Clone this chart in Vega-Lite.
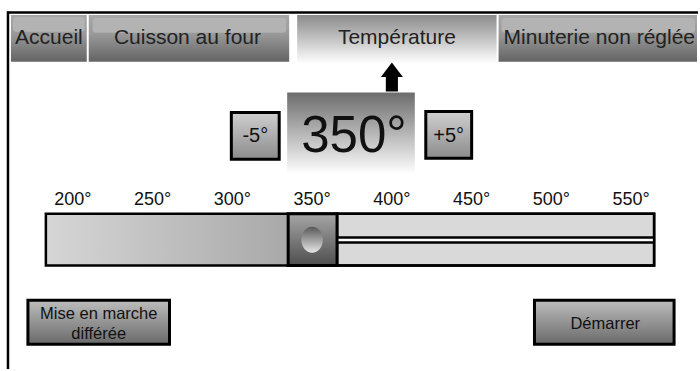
{
  "$schema": "https://vega.github.io/schema/vega-lite/v6.json",
  "width": 700,
  "height": 371,
  "autosize": {"type": "fit", "contains": "padding"},
  "padding": 0,
  "background": "white",
  "config": {"view": {"stroke": null}},
  "datasets": {
    "boxes": [
      {"kind": "tab", "name": "Accueil", "x": 11, "x2": 87, "y": 15, "y2": 62},
      {"kind": "tab", "name": "Cuisson au four", "x": 89, "x2": 290, "y": 15, "y2": 62},
      {"kind": "tab", "name": "Minuterie non réglée", "x": 500, "x2": 699, "y": 15, "y2": 62},
      {"kind": "tabhl", "name": "Accueil", "x": 13, "x2": 85, "y": 17, "y2": 32},
      {"kind": "tabhl", "name": "Cuisson au four", "x": 93, "x2": 287, "y": 18, "y2": 33},
      {"kind": "tabhl", "name": "Minuterie non réglée", "x": 503, "x2": 697, "y": 18, "y2": 33},
      {"kind": "tabactive", "name": "Température", "x": 298, "x2": 498, "y": 15, "y2": 64},
      {"kind": "display", "name": "valeur", "x": 288, "x2": 416, "y": 93, "y2": 175},
      {"kind": "stepbtn", "name": "-5°", "x": 232, "x2": 280, "y": 113, "y2": 160},
      {"kind": "stepbtn", "name": "+5°", "x": 427, "x2": 473, "y": 112, "y2": 159},
      {"kind": "slidefill", "name": "rempli", "x": 46, "x2": 289, "y": 215, "y2": 267},
      {"kind": "track", "name": "piste", "x": 338, "x2": 656, "y": 215, "y2": 267},
      {"kind": "trackline", "name": "ligne", "x": 338, "x2": 656, "y": 237.5, "y2": 245},
      {"kind": "trackgap", "name": "espace", "x": 339, "x2": 655, "y": 240, "y2": 242.5},
      {"kind": "sliderframe", "name": "cadre", "x": 46, "x2": 656, "y": 215, "y2": 267},
      {"kind": "knob", "name": "curseur", "x": 289, "x2": 338, "y": 215, "y2": 267},
      {"kind": "actbtn", "name": "Mise en marche différée", "x": 28, "x2": 170, "y": 302, "y2": 346},
      {"kind": "actbtn", "name": "Démarrer", "x": 536, "x2": 676, "y": 302, "y2": 346}
    ],
    "lines": [
      {"name": "gauche", "x": 8, "x2": 8, "y": 11.5, "y2": 371},
      {"name": "haut", "x": 7, "x2": 700, "y": 12.5, "y2": 12.5}
    ],
    "symbols": [
      {"kind": "arrow", "x": 393, "y": 77.5},
      {"kind": "dot", "x": 313, "y": 241}
    ],
    "labels": [
      {"role": "tab", "text": "Accueil", "x": 49, "y": 44},
      {"role": "tab", "text": "Cuisson au four", "x": 188, "y": 44},
      {"role": "tab", "text": "Température", "x": 398, "y": 44},
      {"role": "tab", "text": "Minuterie non réglée", "x": 601, "y": 44},
      {"role": "big", "text": "350°", "x": 355, "y": 153},
      {"role": "step", "text": "-5°", "x": 256, "y": 143},
      {"role": "step", "text": "+5°", "x": 450, "y": 143},
      {"role": "tick", "text": "200°", "x": 73, "y": 206},
      {"role": "tick", "text": "250°", "x": 153, "y": 206},
      {"role": "tick", "text": "300°", "x": 233, "y": 206},
      {"role": "tick", "text": "350°", "x": 313, "y": 206},
      {"role": "tick", "text": "400°", "x": 393, "y": 206},
      {"role": "tick", "text": "450°", "x": 473, "y": 206},
      {"role": "tick", "text": "500°", "x": 553, "y": 206},
      {"role": "tick", "text": "550°", "x": 633, "y": 206},
      {"role": "btn", "text": "Mise en marche\ndifférée", "x": 99, "y": 321},
      {"role": "btn", "text": "Démarrer", "x": 607, "y": 331}
    ]
  },
  "encoding": {
    "x": {"field": "x", "type": "quantitative", "scale": {"domain": [0, 700], "nice": false, "zero": false}, "axis": null},
    "y": {"field": "y", "type": "quantitative", "scale": {"domain": [0, 371], "reverse": true, "nice": false, "zero": false}, "axis": null}
  },
  "layer": [
    {
      "data": {"name": "boxes"},
      "transform": [{"filter": "datum.kind === 'tab'"}],
      "mark": {"type": "rect", "color": {"gradient": "linear", "x1": 0, "y1": 0, "x2": 0, "y2": 1, "stops": [{"offset": 0, "color": "#a8a8a8"}, {"offset": 0.4, "color": "#9a9a9a"}, {"offset": 1, "color": "#646464"}]}},
      "encoding": {"x2": {"field": "x2"}, "y2": {"field": "y2"}}
    },
    {
      "data": {"name": "boxes"},
      "transform": [{"filter": "datum.kind === 'tabhl'"}],
      "mark": {"type": "rect", "color": "#b3b3b3", "cornerRadius": 3},
      "encoding": {"x2": {"field": "x2"}, "y2": {"field": "y2"}}
    },
    {
      "data": {"name": "boxes"},
      "transform": [{"filter": "datum.kind === 'tabactive'"}],
      "mark": {"type": "rect", "color": {"gradient": "linear", "x1": 0, "y1": 0, "x2": 0, "y2": 1, "stops": [{"offset": 0, "color": "#8a8a8a"}, {"offset": 1, "color": "#ffffff"}]}},
      "encoding": {"x2": {"field": "x2"}, "y2": {"field": "y2"}}
    },
    {
      "data": {"name": "boxes"},
      "transform": [{"filter": "datum.kind === 'display'"}],
      "mark": {"type": "rect", "color": {"gradient": "linear", "x1": 0, "y1": 0, "x2": 0, "y2": 1, "stops": [{"offset": 0, "color": "#6c6c6c"}, {"offset": 1, "color": "#ffffff"}]}},
      "encoding": {"x2": {"field": "x2"}, "y2": {"field": "y2"}}
    },
    {
      "data": {"name": "boxes"},
      "transform": [{"filter": "datum.kind === 'stepbtn'"}],
      "mark": {"type": "rect", "stroke": "#000000", "strokeWidth": 3, "fill": {"gradient": "linear", "x1": 0, "y1": 0, "x2": 0, "y2": 1, "stops": [{"offset": 0, "color": "#cfcfcf"}, {"offset": 1, "color": "#8c8c8c"}]}},
      "encoding": {"x2": {"field": "x2"}, "y2": {"field": "y2"}}
    },
    {
      "data": {"name": "boxes"},
      "transform": [{"filter": "datum.kind === 'slidefill'"}],
      "mark": {"type": "rect", "color": {"gradient": "linear", "x1": 0, "y1": 0, "x2": 1, "y2": 0, "stops": [{"offset": 0, "color": "#d6d6d6"}, {"offset": 1, "color": "#a9a9a9"}]}},
      "encoding": {"x2": {"field": "x2"}, "y2": {"field": "y2"}}
    },
    {
      "data": {"name": "boxes"},
      "transform": [{"filter": "datum.kind === 'track'"}],
      "mark": {"type": "rect", "fill": "#d9d9d9", "stroke": "#000000", "strokeWidth": 2.5},
      "encoding": {"x2": {"field": "x2"}, "y2": {"field": "y2"}}
    },
    {
      "data": {"name": "boxes"},
      "transform": [{"filter": "datum.kind === 'trackline'"}],
      "mark": {"type": "rect", "color": "#000000"},
      "encoding": {"x2": {"field": "x2"}, "y2": {"field": "y2"}}
    },
    {
      "data": {"name": "boxes"},
      "transform": [{"filter": "datum.kind === 'trackgap'"}],
      "mark": {"type": "rect", "color": "#ffffff"},
      "encoding": {"x2": {"field": "x2"}, "y2": {"field": "y2"}}
    },
    {
      "data": {"name": "boxes"},
      "transform": [{"filter": "datum.kind === 'sliderframe'"}],
      "mark": {"type": "rect", "fill": null, "fillOpacity": 0, "stroke": "#000000", "strokeWidth": 2.5},
      "encoding": {"x2": {"field": "x2"}, "y2": {"field": "y2"}}
    },
    {
      "data": {"name": "boxes"},
      "transform": [{"filter": "datum.kind === 'knob'"}],
      "mark": {"type": "rect", "stroke": "#000000", "strokeWidth": 3, "fill": {"gradient": "linear", "x1": 0, "y1": 0, "x2": 0, "y2": 1, "stops": [{"offset": 0, "color": "#a6a6a6"}, {"offset": 1, "color": "#4e4e4e"}]}},
      "encoding": {"x2": {"field": "x2"}, "y2": {"field": "y2"}}
    },
    {
      "data": {"name": "boxes"},
      "transform": [{"filter": "datum.kind === 'actbtn'"}],
      "mark": {"type": "rect", "stroke": "#000000", "strokeWidth": 3, "fill": {"gradient": "linear", "x1": 0, "y1": 0, "x2": 0, "y2": 1, "stops": [{"offset": 0, "color": "#bdbdbd"}, {"offset": 1, "color": "#6a6a6a"}]}},
      "encoding": {"x2": {"field": "x2"}, "y2": {"field": "y2"}}
    },
    {
      "data": {"name": "lines"},
      "mark": {"type": "rule", "color": "#000000", "strokeWidth": 2.5},
      "encoding": {"x2": {"field": "x2"}, "y2": {"field": "y2"}}
    },
    {
      "data": {"name": "symbols"},
      "transform": [{"filter": "datum.kind === 'arrow'"}],
      "mark": {"type": "point", "filled": true, "opacity": 1, "color": "#000000", "size": 484, "shape": "M0,-1.32 L1,0 L0.55,0 L0.55,1.32 L-0.55,1.32 L-0.55,0 L-1,0 Z"}
    },
    {
      "data": {"name": "symbols"},
      "transform": [{"filter": "datum.kind === 'dot'"}],
      "mark": {"type": "point", "filled": true, "opacity": 1, "size": 676, "shape": "M-0.83,0 A0.83,1 0 1,1 0.83,0 A0.83,1 0 1,1 -0.83,0 Z", "color": {"gradient": "linear", "x1": 0, "y1": 0, "x2": 0, "y2": 1, "stops": [{"offset": 0, "color": "#585858"}, {"offset": 1, "color": "#e6e6e6"}]}}
    },
    {
      "data": {"name": "labels"},
      "transform": [{"filter": "datum.role === 'tab'"}],
      "mark": {"type": "text", "font": "Liberation Sans", "fontSize": 21, "color": "#222222", "align": "center", "baseline": "alphabetic"},
      "encoding": {"text": {"field": "text"}}
    },
    {
      "data": {"name": "labels"},
      "transform": [{"filter": "datum.role === 'big'"}],
      "mark": {"type": "text", "font": "Liberation Sans", "fontSize": 51, "color": "#111111", "align": "center", "baseline": "alphabetic"},
      "encoding": {"text": {"field": "text"}}
    },
    {
      "data": {"name": "labels"},
      "transform": [{"filter": "datum.role === 'step'"}],
      "mark": {"type": "text", "font": "Liberation Sans", "fontSize": 20, "color": "#111111", "align": "center", "baseline": "alphabetic"},
      "encoding": {"text": {"field": "text"}}
    },
    {
      "data": {"name": "labels"},
      "transform": [{"filter": "datum.role === 'tick'"}],
      "mark": {"type": "text", "font": "Liberation Sans", "fontSize": 18, "color": "#111111", "align": "center", "baseline": "alphabetic"},
      "encoding": {"text": {"field": "text"}}
    },
    {
      "data": {"name": "labels"},
      "transform": [{"filter": "datum.role === 'btn'"}],
      "mark": {"type": "text", "font": "Liberation Sans", "fontSize": 16.5, "lineBreak": "\n", "lineHeight": 20, "color": "#111111", "align": "center", "baseline": "alphabetic"},
      "encoding": {"text": {"field": "text"}}
    }
  ]
}
